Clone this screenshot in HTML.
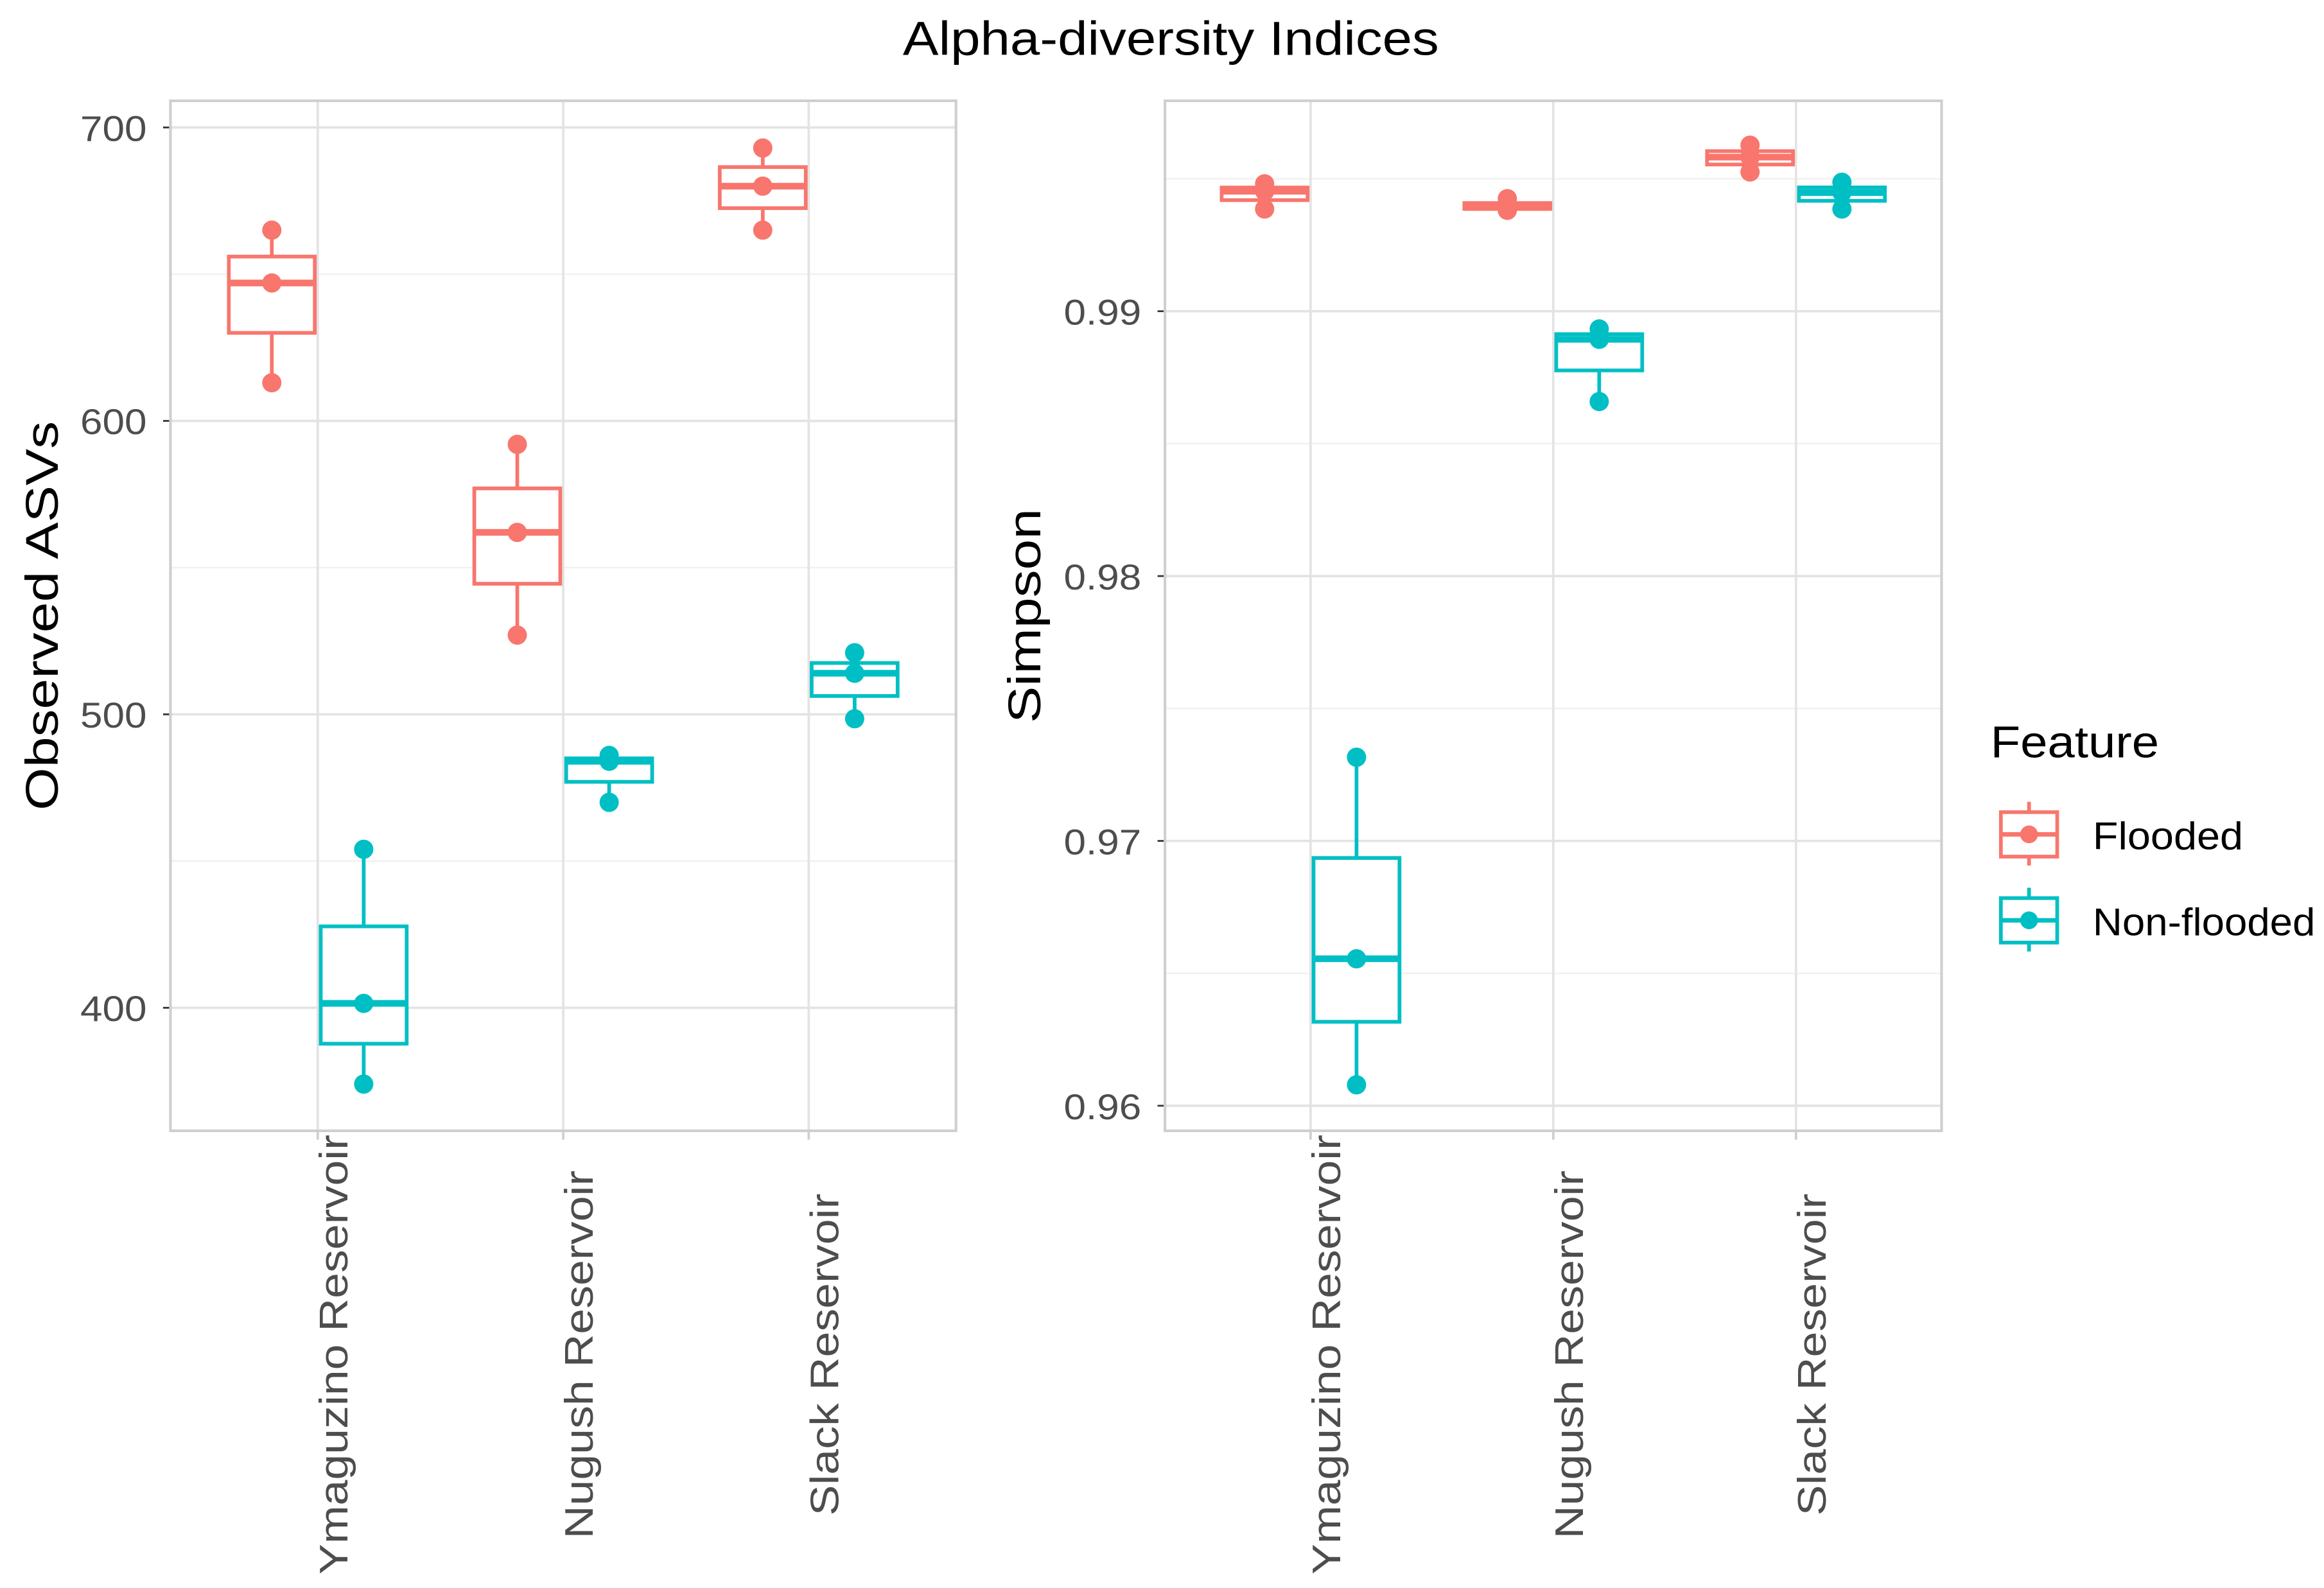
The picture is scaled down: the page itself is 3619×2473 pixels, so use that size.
<!DOCTYPE html>
<html><head><meta charset="utf-8"><style>
html,body{margin:0;padding:0;background:#fff;}
svg{display:block;font-family:"Liberation Sans",sans-serif;}
</style></head><body>
<svg id="chart" width="3619" height="2473" viewBox="0 0 1568 1071.5" xmlns="http://www.w3.org/2000/svg">
<rect width="1568" height="1071.5" fill="#fff"/>
<text transform="translate(790,37) scale(1.13,1)" font-size="32" text-anchor="middle" fill="#000">Alpha-diversity Indices</text>
<g id="p1"></g>
<g id="p2"></g>
<g>
<text transform="translate(1343,511) scale(1.1,1)" font-size="30" fill="#000">Feature</text>
<g>
<line x1="1369" y1="541" x2="1369" y2="584" stroke="#F8766D" stroke-width="2.5"/>
<rect x="1350" y="548" width="38" height="30" fill="#fff" stroke="#F8766D" stroke-width="2.5"/>
<line x1="1350" y1="563" x2="1388" y2="563" stroke="#F8766D" stroke-width="3"/>
<circle cx="1369" cy="563" r="6" fill="#F8766D"/>
<text transform="translate(1412,573) scale(1.08,1)" font-size="26" fill="#000">Flooded</text></g>
<g>
<line x1="1369" y1="599" x2="1369" y2="642" stroke="#00BFC4" stroke-width="2.5"/>
<rect x="1350" y="606" width="38" height="30" fill="#fff" stroke="#00BFC4" stroke-width="2.5"/>
<line x1="1350" y1="621" x2="1388" y2="621" stroke="#00BFC4" stroke-width="3"/>
<circle cx="1369" cy="621" r="6" fill="#00BFC4"/>
<text transform="translate(1412,631) scale(1.06,1)" font-size="26" fill="#000">Non-flooded</text></g>
</g>
</svg>
<script>
const categories = ["Ymaguzino Reservoir","Nugush Reservoir","Slack Reservoir"];
const groups = ["Flooded","Non-flooded"];
const colors = ["#F8766D","#00BFC4"];
const asvFlooded = [[665,647,613],[592,562,527],[693,680,665]];
const asvNonFlooded = [[454,401.5,374],[486,484,470],[521,514,498.5]];
const simpsonFlooded = [[0.99481,0.99453,0.99386],[0.99425,0.99392,0.99381],[0.99627,0.99582,0.99526]];
const simpsonNonFlooded = [[0.97316,0.96555,0.96079],[0.98933,0.98894,0.98659],[0.99487,0.99448,0.99386]];
const asvTicks = [400,500,600,700];
const asvMinor = [450,550,650];
const simpsonTicks = [0.96,0.97,0.98,0.99];
const simpsonMinor = [0.965,0.975,0.985,0.995];

const NS="http://www.w3.org/2000/svg";
function mk(p,tag,a){const e=document.createElementNS(NS,tag);for(const k in a)e.setAttribute(k,a[k]);p.appendChild(e);return e;}
function q(arr,p){const s=[...arr].sort((a,b)=>a-b);const h=(s.length-1)*p;const lo=Math.floor(h);return s[lo]+(s[Math.min(lo+1,s.length-1)]-s[lo])*(h-lo);}

function panel(g,box,yScale,ticks,minor,fmt,title,titleX,series){
  const [x0,y0,x1,y1]=box;
  const xc=i=>x0+(x1-x0)*(i+0.6)/3.2;
  minor.forEach(v=>{const l=mk(g,'line',{x1:x0,x2:x1,y1:yScale(v),y2:yScale(v),stroke:'#f0f0f0','stroke-width':1});
    });
  ticks.forEach(v=>{const l=mk(g,'line',{x1:x0,x2:x1,y1:yScale(v),y2:yScale(v),stroke:'#e3e3e3','stroke-width':1.6});
    
    mk(g,'line',{x1:x0-5,x2:x0,y1:yScale(v),y2:yScale(v),stroke:'#333','stroke-width':1.2});
    const t=mk(g,'text',{'font-size':24,'text-anchor':'end',fill:'#4d4d4d',transform:`translate(${x0-16},${yScale(v)+9}) scale(1.12,1)`});t.textContent=fmt(v);
    });
  categories.forEach((c,i)=>{const x=xc(i);
    const l=mk(g,'line',{x1:x,x2:x,y1:y0,y2:y1,stroke:'#e3e3e3','stroke-width':1.6});
    
    mk(g,'line',{x1:x,x2:x,y1:y1,y2:y1+6,stroke:'#cfcfcf','stroke-width':1.6});
    const t=mk(g,'text',{'font-size':27,'text-anchor':'middle',fill:'#4d4d4d',transform:`translate(${x+20},914) rotate(-90) scale(1.15,1)`});
    t.textContent=c;});
  series.forEach((data,si)=>{
    data.forEach((pts,i)=>{
      const x=xc(i)+(si===0?-31:31);const col=colors[si];const w=29;
      const bg=mk(g,'g',{});
      
      const mn=Math.min(...pts),mx=Math.max(...pts),q1=q(pts,0.25),md=q(pts,0.5),q3=q(pts,0.75);
      mk(bg,'line',{x1:x,x2:x,y1:yScale(mx),y2:yScale(q3),stroke:col,'stroke-width':2.5});
      mk(bg,'line',{x1:x,x2:x,y1:yScale(q1),y2:yScale(mn),stroke:col,'stroke-width':2.5});
      mk(bg,'rect',{x:x-w,y:yScale(q3),width:2*w,height:Math.max(yScale(q1)-yScale(q3),0.1),fill:'#fff',stroke:col,'stroke-width':2.5});
      mk(bg,'line',{x1:x-w,x2:x+w,y1:yScale(md),y2:yScale(md),stroke:col,'stroke-width':4.5});
      pts.forEach(v=>{const c=mk(bg,'circle',{cx:x,cy:yScale(v),r:6.5,fill:col});
        });
    });
  });
  const b=mk(g,'rect',{x:x0,y:y0,width:x1-x0,height:y1-y0,fill:'none',stroke:'#cfcfcf','stroke-width':1.8});
  
  const t=mk(g,'text',{'font-size':31,'text-anchor':'middle',fill:'#000',transform:`translate(${titleX},${(y0+y1)/2}) rotate(-90) scale(1.2,1)`});
  t.textContent=title;
}
const y1s=v=>86+(700-v)*1.98;
const y2s=v=>210+(0.99-v)*17870;
panel(document.getElementById('p1'),[115,68,645,763],y1s,asvTicks,asvMinor,v=>String(v),"Observed ASVs",39,[asvFlooded,asvNonFlooded]);
panel(document.getElementById('p2'),[786,68,1310,763],y2s,simpsonTicks,simpsonMinor,v=>v.toFixed(2),"Simpson",702,[simpsonFlooded,simpsonNonFlooded]);
</script>
</body></html>
